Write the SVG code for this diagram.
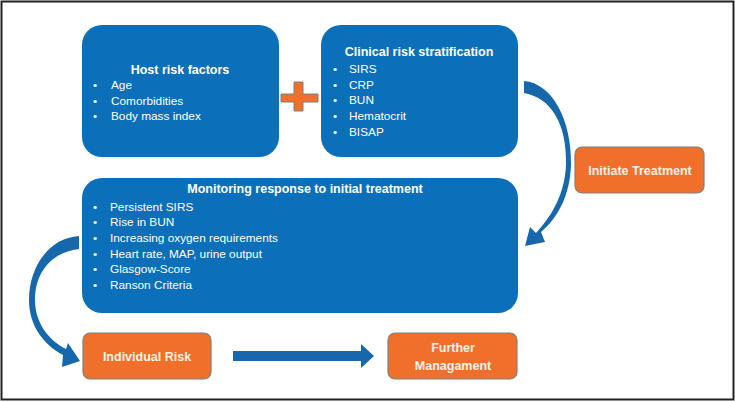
<svg xmlns="http://www.w3.org/2000/svg" width="735" height="402" viewBox="0 0 735 402">
<style>
.blue{fill:#0B6FBA}
.orange{fill:#F0702B;stroke:#7F7F7F;stroke-width:1.2}
.arrow{fill:#1767AD}
text{font-family:"Liberation Sans",Arial,sans-serif;fill:#fff}
.t{font-weight:bold;font-size:12.5px;text-anchor:middle}
.b{font-size:11.8px}
.o{font-weight:bold;font-size:12.5px;text-anchor:middle;fill:#FFF1E6}
</style>
<rect x="1.5" y="1.5" width="732" height="398" fill="#fff" stroke="#222" stroke-width="2"/>
<g id="connectors">
<path class="arrow" d="M524 81 C552 83 572 120 571 165 C570 195 558 218 541 232 L545 242 L525 246 L530 227 L536 233 C553 215 565 192 566 165 C567 125 552 98 524 93 Z"/>
<path class="arrow" d="M79 236 C48 238 29 268 29 300 C29 326 44 345 63 355 L62 367 L80 361 L68 343 L66 349 C48 340 35 322 35 300 C35 272 52 252 79 249 Z"/>
<path class="arrow" d="M233 351 L361 351 L361 344 L374 356 L361 368 L361 361 L233 361 Z"/>
</g>
<g id="plus">
<path d="M294 82 H303 V94 H318 V102 H303 V111 H294 V102 H281 V94 H294 Z" fill="#F0702B" stroke="#7F7F7F" stroke-width="1"/>
</g>
<g id="host">
<rect class="blue" x="82" y="25" width="197" height="132" rx="20"/>
<text class="t" x="180" y="74">Host risk factors</text>
<g class="b">
<text x="93" y="89">•</text><text x="111" y="89">Age</text>
<text x="93" y="105">•</text><text x="111" y="105">Comorbidities</text>
<text x="93" y="120">•</text><text x="111" y="120">Body mass index</text>
</g>
</g>
<g id="clinical">
<rect class="blue" x="321" y="25" width="197" height="132" rx="20"/>
<text class="t" x="419" y="56">Clinical risk stratification</text>
<g class="b">
<text x="333" y="73">•</text><text x="349" y="73">SIRS</text>
<text x="333" y="89">•</text><text x="349" y="89">CRP</text>
<text x="333" y="104">•</text><text x="349" y="104">BUN</text>
<text x="333" y="120">•</text><text x="349" y="120">Hematocrit</text>
<text x="333" y="136">•</text><text x="349" y="136">BISAP</text>
</g>
</g>
<g id="monitoring">
<rect class="blue" x="82" y="178" width="436" height="135" rx="20"/>
<text class="t" x="305" y="193">Monitoring response to initial treatment</text>
<g class="b">
<text x="93" y="211">•</text><text x="110" y="211">Persistent SIRS</text>
<text x="93" y="226">•</text><text x="110" y="226">Rise in BUN</text>
<text x="93" y="242">•</text><text x="110" y="242">Increasing oxygen requirements</text>
<text x="93" y="258">•</text><text x="110" y="258">Heart rate, MAP, urine output</text>
<text x="93" y="273">•</text><text x="110" y="273">Glasgow-Score</text>
<text x="93" y="289">•</text><text x="110" y="289">Ranson Criteria</text>
</g>
</g>
<g id="initiate">
<rect class="orange" x="575" y="147" width="129" height="46" rx="7"/>
<text class="o" x="640" y="175">Initiate Treatment</text>
</g>
<g id="individual">
<rect class="orange" x="83" y="333" width="128" height="46" rx="7"/>
<text class="o" x="147" y="361">Individual Risk</text>
</g>
<g id="further">
<rect class="orange" x="388" y="333" width="129" height="46" rx="7"/>
<text class="o" x="453" y="352">Further</text>
<text class="o" x="453" y="370">Managament</text>
</g>
</svg>
